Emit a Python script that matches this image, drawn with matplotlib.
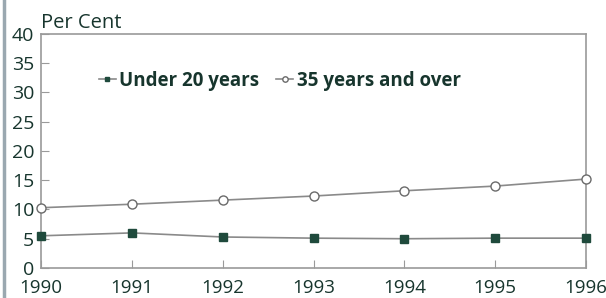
import matplotlib.pyplot as plt

# Datos
years = [1990, 1991, 1992, 1993, 1994, 1995, 1996]
under_20 = [5.5, 6.0, 5.3, 5.1, 5.0, 5.1, 5.1]
over_35 = [10.3, 10.9, 11.6, 12.3, 13.2, 14.0, 15.2]
y_ticks = [0, 5, 10, 15, 20, 25, 30, 35, 40]

text_color = '#17352d'
mark_color = '#1f4a3c'
line_color = '#8a8a8a'

plt.rcParams['font.family'] = ['Open Sans', 'DejaVu Sans']

fig = plt.figure(figsize=(6.06, 2.98), dpi=100)
ax = fig.add_axes([0.0677, 0.1007, 0.8993, 0.7853])

ax.plot(years, under_20, color=line_color, linewidth=1.2, marker='s', markersize=5.5,
        markerfacecolor=mark_color, markeredgecolor=mark_color, label='Under 20 years',
        clip_on=False, zorder=3)
ax.plot(years, over_35, color=line_color, linewidth=1.2, marker='o', markersize=6.5,
        markerfacecolor='white', markeredgecolor='#6a6a6a', markeredgewidth=1.0,
        label='35 years and over', clip_on=False, zorder=3)

ax.set_xlim(1990, 1996)
ax.set_ylim(0, 40)
ax.set_yticks(y_ticks)
ax.set_xticks(years)

for s in ax.spines.values():
    s.set_color('#9a9a9a')
    s.set_linewidth(1.2)

ax.tick_params(axis='both', direction='in', colors='#9a9a9a', labelcolor=text_color,
               labelsize=14, length=6)
ax.tick_params(axis='x', pad=8, labelsize=13.5)
ax.tick_params(axis='y', pad=5)

ax.text(0.0, 1.005, 'Per Cent', transform=ax.transAxes, fontsize=14.5, color=text_color,
        ha='left', va='bottom')

leg = ax.legend(loc='center left', bbox_to_anchor=(0.075, 0.80), ncol=2, frameon=False,
                handlelength=0.9, handletextpad=0.2, columnspacing=0.9, markerscale=0.6,
                prop={'size': 13.5, 'weight': 'bold'})
for t in leg.get_texts():
    t.set_color(text_color)

# borde izquierdo de la imagen
fig.add_artist(plt.Line2D([0.006, 0.006], [0, 1], color='#9aa8b0', linewidth=2.5))

fig.savefig('out.png', dpi=100)
